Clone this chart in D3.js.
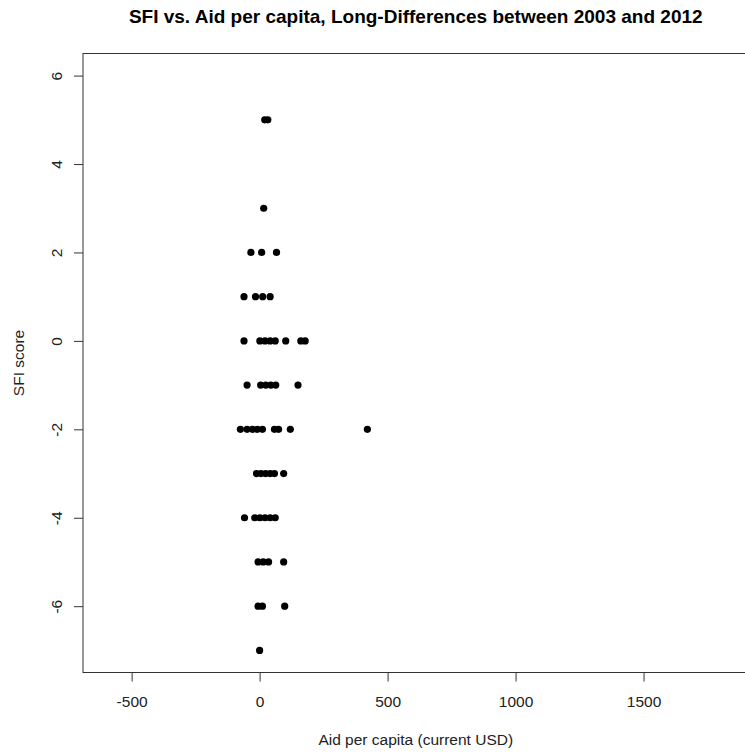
<!DOCTYPE html>
<html>
<head>
<meta charset="utf-8">
<script src="https://cdn.jsdelivr.net/npm/d3@7"></script>
<style>
  body { margin: 0; background: #fff; }
  svg { display: block; font-family: "Liberation Sans", Arial, sans-serif; }
</style>
</head>
<body>
<div id="chart"></div>
<script>
// aid per capita (current USD) and SFI score, one entry per country
var aidPerCapita = [
  20, 32,
  16,
  -34, 8, 66,
  -61, -16, 12, 41,
  -61, 1, 21, 41, 61, 102, 161, 178,
  -49, 4, 24, 44, 63, 150,
  -75, -49, -28, -9, 11, 58, 74, 120, 421,
  -12, 5, 23, 41, 58, 94,
  -59, -19, 1, 21, 41, 61,
  -6, 14, 35, 94,
  -6, 11, 98,
  0
];
var sfiScore = [
  5, 5,
  3,
  2, 2, 2,
  1, 1, 1, 1,
  0, 0, 0, 0, 0, 0, 0, 0,
  -1, -1, -1, -1, -1, -1,
  -2, -2, -2, -2, -2, -2, -2, -2, -2,
  -3, -3, -3, -3, -3, -3,
  -4, -4, -4, -4, -4, -4,
  -5, -5, -5, -5,
  -6, -6, -6,
  -7
];
var xTicks = [-500, 0, 500, 1000, 1500];
var yTicks = [-6, -4, -2, 0, 2, 4, 6];

var width = 745, height = 754;
var plotLeft = 83, plotTop = 53.5, plotRight = 748.5, plotBottom = 672.5;

var svg = d3.select('#chart').append('svg')
    .attr('width', width)
    .attr('height', height);

var x = d3.scaleLinear().domain([-690, 1910]).range([plotLeft, plotRight]);
var y = d3.scaleLinear().domain([-7.5, 6.5]).range([plotBottom, plotTop]);

// points
svg.append('g').selectAll('circle')
    .data(aidPerCapita)
    .enter().append('circle')
    .attr('cx', function(d) { return x(d); })
    .attr('cy', function(d, i) { return y(sfiScore[i]); })
    .attr('r', 3.6)
    .attr('fill', '#000');

// box
svg.append('rect')
    .attr('x', plotLeft)
    .attr('y', plotTop)
    .attr('width', plotRight - plotLeft)
    .attr('height', plotBottom - plotTop)
    .attr('fill', 'none')
    .attr('stroke', '#333')
    .attr('stroke-width', 1);

var plain = function(d) { return String(d); };

var xAxis = svg.append('g')
    .attr('transform', 'translate(0,' + plotBottom + ')')
    .call(d3.axisBottom(x).tickValues(xTicks).tickFormat(plain)
        .tickSize(9).tickPadding(14).tickSizeOuter(0));

var yAxis = svg.append('g')
    .attr('transform', 'translate(' + plotLeft + ',0)')
    .call(d3.axisLeft(y).tickValues(yTicks).tickFormat(plain)
        .tickSize(9).tickSizeOuter(0));

[xAxis, yAxis].forEach(function(a) {
    a.select('.domain').remove();
    a.selectAll('line').attr('stroke', '#333');
    a.selectAll('text')
        .attr('fill', '#222')
        .style('font-size', '15.5px')
        .style('font-family', '"Liberation Sans", Arial, sans-serif');
});

yAxis.selectAll('text')
    .attr('x', null)
    .attr('dy', null)
    .attr('text-anchor', 'middle')
    .attr('transform', 'translate(-21,0) rotate(-90)');

svg.append('text')
    .attr('x', (plotLeft + plotRight) / 2)
    .attr('y', 23)
    .attr('text-anchor', 'middle')
    .style('font-size', '19px')
    .style('font-weight', 'bold')
    .attr('fill', '#000')
    .text('SFI vs. Aid per capita, Long-Differences between 2003 and 2012');

svg.append('text')
    .attr('x', (plotLeft + plotRight) / 2)
    .attr('y', 745)
    .attr('text-anchor', 'middle')
    .style('font-size', '15.5px')
    .attr('fill', '#222')
    .text('Aid per capita (current USD)');

svg.append('text')
    .attr('transform', 'translate(24,' + ((plotTop + plotBottom) / 2) + ') rotate(-90)')
    .attr('text-anchor', 'middle')
    .style('font-size', '15.5px')
    .attr('fill', '#222')
    .text('SFI score');
</script>
</body>
</html>
